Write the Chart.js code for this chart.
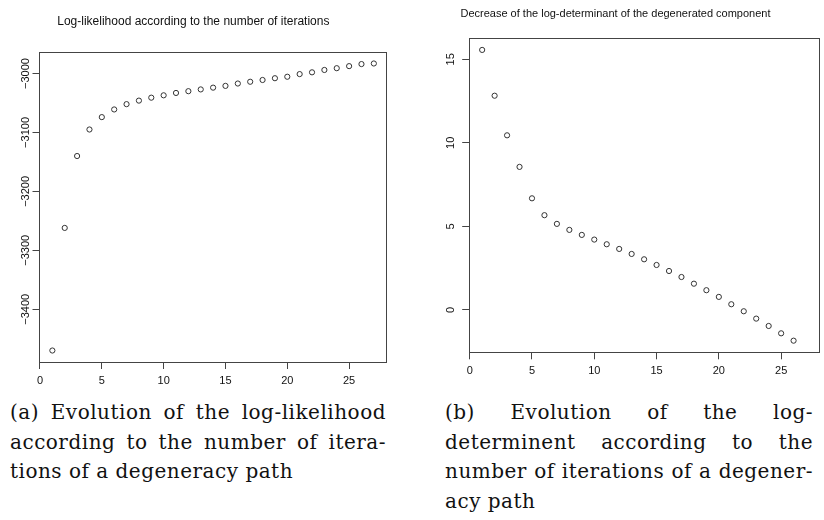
<!DOCTYPE html>
<html>
<head>
<meta charset="utf-8">
<script src="https://cdn.jsdelivr.net/npm/chart.js@4"></script>
<style>
  body { margin: 0; background: #fff; width: 824px; height: 520px; position: relative; overflow: hidden; }
  canvas { position: absolute; top: 0; }
  #chartA { left: 0; }
  #chartB { left: 412px; }
  .caption { position: absolute; font-family: "DejaVu Serif", serif; font-size: 20px; letter-spacing: 0.5px; line-height: 29.5px; color: #111; }
  .caption div { text-align: justify; text-align-last: justify; white-space: nowrap; }
  .caption div.last { text-align-last: left; }
  #capA { left: 10px; top: 398px; width: 376px; }
  #capB { left: 445px; top: 398px; width: 368px; }
</style>
</head>
<body>
<canvas id="chartA" width="412" height="395"></canvas>
<canvas id="chartB" width="412" height="395"></canvas>

<div class="caption" id="capA">
  <div>(a) Evolution of the log-likelihood</div>
  <div>according to the number of itera-</div>
  <div class="last">tions of a degeneracy path</div>
</div>
<div class="caption" id="capB">
  <div>(b) Evolution of the log-</div>
  <div>determinent according to the</div>
  <div>number of iterations of a degener-</div>
  <div class="last">acy path</div>
</div>

<script>
// data
const iterA = [1, 2, 3, 4, 5, 6, 7, 8, 9, 10, 11, 12, 13, 14, 15, 16, 17, 18, 19, 20, 21, 22, 23, 24, 25, 26, 27];
const logLik = [-3470, -3262, -3140, -3095, -3074, -3061, -3052, -3046, -3041, -3037, -3033, -3030, -3027,
  -3024, -3021, -3017, -3014, -3011, -3008, -3005.5, -3001, -2998, -2994, -2991, -2987.5, -2984, -2983];

const iterB = [1, 2, 3, 4, 5, 6, 7, 8, 9, 10, 11, 12, 13, 14, 15, 16, 17, 18, 19, 20, 21, 22, 23, 24, 25, 26];
const logDet = [15.56, 12.82, 10.45, 8.56, 6.68, 5.67, 5.15, 4.79, 4.49, 4.21, 3.93, 3.65, 3.35,
  3.03, 2.69, 2.33, 1.97, 1.57, 1.18, 0.78, 0.34, -0.08, -0.52, -0.96, -1.40, -1.84];

const xTicks = [0, 5, 10, 15, 20, 25];
const yTicksA = [-3400, -3300, -3200, -3100, -3000];
const yTicksB = [0, 5, 10, 15];

const titleA = "Log-likelihood according to the number of iterations";
const titleB = "Decrease of the log-determinant of the degenerated component";

// R style axis range: data range plus 4% each side
function rRange(arr) {
  const lo = Math.min(...arr), hi = Math.max(...arr);
  const pad = (hi - lo) * 0.04;
  return [lo - pad, hi + pad];
}

const axisColor = "#444";
const tickFont = { family: "Liberation Sans", size: 11 };

const boxPlugin = {
  id: "box",
  afterDraw(chart) {
    const { ctx, chartArea: a } = chart;
    ctx.save();
    ctx.strokeStyle = axisColor;
    ctx.lineWidth = 1;
    const l = Math.floor(a.left) + 0.5, t = Math.floor(a.top) + 0.5;
    const r = Math.floor(a.right) + 0.5, b = Math.floor(a.bottom) + 0.5;
    ctx.strokeRect(l, t, r - l, b - t);
    ctx.restore();
  }
};

function makeChart(id, xs, ys, yTicks, title, opts) {
  const [xMin, xMax] = rRange(iterA);
  const [yMin, yMax] = rRange(ys);
  return new Chart(document.getElementById(id), {
    type: "scatter",
    data: {
      datasets: [{
        data: xs.map((x, i) => ({ x: x, y: ys[i] })),
        pointRadius: 2.6,
        pointBorderWidth: 1,
        borderColor: "#333",
        backgroundColor: "rgba(0,0,0,0)",
        clip: false
      }]
    },
    options: {
      responsive: false,
      animation: false,
      events: [],
      layout: { padding: { left: 0, right: opts.padRight, top: 0, bottom: 0 } },
      plugins: {
        legend: { display: false },
        tooltip: { enabled: false },
        title: {
          display: true,
          text: title,
          color: "#111",
          font: { family: "Liberation Sans", size: opts.titleSize, weight: "normal" },
          padding: { top: opts.titleTop, bottom: opts.titleBottom }
        }
      },
      scales: {
        x: {
          type: "linear",
          min: xMin,
          max: xMax,
          afterBuildTicks: (s) => { s.ticks = xTicks.map(v => ({ value: v })); },
          afterFit: (s) => { s.height = opts.xHeight; },
          border: { display: false },
          grid: { display: true, drawOnChartArea: false, drawTicks: true, tickLength: 7, color: axisColor },
          ticks: { font: tickFont, color: "#111", padding: 5, maxRotation: 0, autoSkip: false }
        },
        y: {
          type: "linear",
          min: yMin,
          max: yMax,
          afterBuildTicks: (s) => { s.ticks = yTicks.map(v => ({ value: v })); },
          afterFit: (s) => { s.width = opts.yWidth; },
          border: { display: false },
          grid: { display: true, drawOnChartArea: false, drawTicks: true, tickLength: 7, color: axisColor },
          ticks: {
            font: tickFont, color: "#111", autoSkip: false,
            minRotation: 90, maxRotation: 90, crossAlign: "center", padding: opts.yPad,
            callback: (v) => String(v).replace("-", "\u2212")
          }
        }
      }
    },
    plugins: [boxPlugin]
  });
}

makeChart("chartA", iterA, logLik, yTicksA, titleA,
  { padRight: 25.3, titleSize: 12, titleTop: 14.8, titleBottom: 22.8, xHeight: 33, yWidth: 39.5, yPad: -9 });
makeChart("chartB", iterB, logDet, yTicksB, titleB,
  { padRight: 5, titleSize: 11, titleTop: 7.4, titleBottom: 17.7, xHeight: 42.7, yWidth: 57.2, yPad: 5 });
</script>
</body>
</html>
